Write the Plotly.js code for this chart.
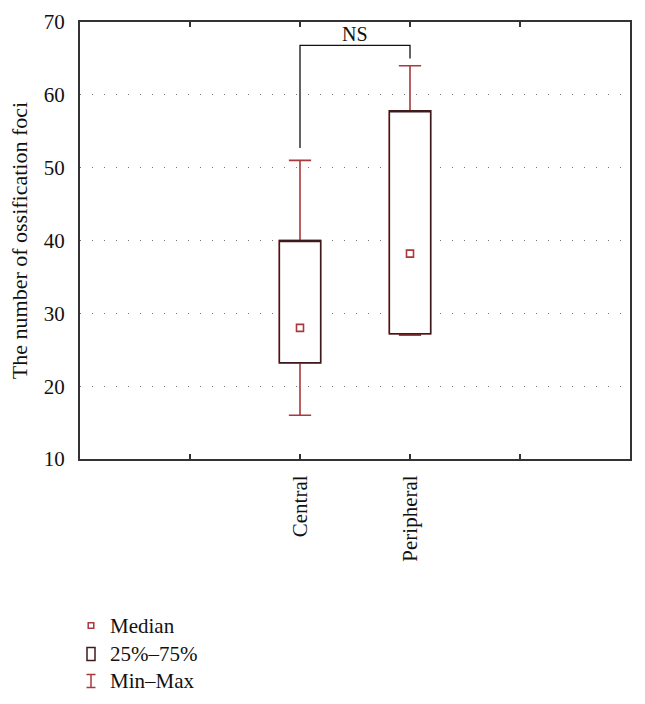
<!DOCTYPE html>
<html>
<head>
<meta charset="utf-8">
<script src="https://cdn.plot.ly/plotly-3.0.1.min.js"></script>
<style>html,body{margin:0;padding:0;background:#fff;}#chart{width:645px;height:704px;}</style>
</head>
<body>
<div id="chart"></div>
<script>
// ---- data ----
var categories = ['Central', 'Peripheral'];
var positions = [2, 3];
var minVals = [16, 27];
var q1Vals = [23.2, 27.2];
var medianVals = [28, 38.2];
var q3Vals = [40, 57.8];
var maxVals = [51, 64];
var tickPositions = [1, 2, 3, 4];
var tickLabels = ['', 'Central', 'Peripheral', ''];
var yTicks = [10, 20, 30, 40, 50, 60, 70];
var bracketLeftBottom = 52.7;
var bracketTop = 66.8;
var bracketRightBottom = 65;
var bracketLabel = 'NS';
var legendLabels = ['Median', '25%\u201375%', 'Min\u2013Max'];

// ---- style ----
var RED = '#a8393c';
var DARK = '#3f1a1c';
var FONT = 'Liberation Serif, DejaVu Serif, serif';
var L = 80, R = 15, T = 22, B = 245, W = 645, H = 704;
var PW = W - L - R, PH = H - T - B;
function px(xp) { return (xp - L) / PW; }
function py(yp) { return (H - B - yp) / PH; }

var traces = [
  { // whiskers (min-max)
    type: 'box', x: positions, q1: q1Vals, median: medianVals, q3: q3Vals,
    lowerfence: minVals, upperfence: maxVals,
    width: 0.375, whiskerwidth: 0.54, boxpoints: false,
    line: { color: RED, width: 1.6 }, fillcolor: 'rgba(0,0,0,0)',
    hoverinfo: 'skip', showlegend: false
  },
  { // 25%-75% box
    type: 'box', x: positions, q1: q1Vals, median: q3Vals, q3: q3Vals,
    lowerfence: q1Vals, upperfence: q3Vals,
    width: 0.375, whiskerwidth: 0, boxpoints: false,
    line: { color: DARK, width: 1.5 }, fillcolor: '#ffffff',
    hoverinfo: 'skip', showlegend: false
  },
  { // median
    type: 'scatter', mode: 'markers', x: positions, y: medianVals,
    marker: { symbol: 'square-open', size: 7, color: RED, line: { width: 1.6, color: RED } },
    hoverinfo: 'skip', showlegend: false, cliponaxis: false
  }
];

var legendY = [625.5, 654, 681];
var annotations = [{
  x: (positions[0] + positions[1]) / 2, y: bracketTop, xref: 'x', yref: 'y',
  text: bracketLabel, showarrow: false, yanchor: 'bottom', yshift: -2,
  font: { family: FONT, size: 20, color: '#111' }
}];
legendLabels.forEach(function (t, i) {
  annotations.push({
    x: px(108), y: py(legendY[i]), xref: 'paper', yref: 'paper',
    text: t, showarrow: false, xanchor: 'left', yanchor: 'middle',
    font: { family: FONT, size: 21, color: '#111' }
  });
});

var shapes = [
  { type: 'path', xref: 'x', yref: 'y', layer: 'above',
    path: 'M' + positions[0] + ',' + bracketLeftBottom + ' L' + positions[0] + ',' + bracketTop +
          ' L' + positions[1] + ',' + bracketTop + ' L' + positions[1] + ',' + bracketRightBottom,
    line: { color: '#111', width: 1.3 } },
  // legend: median square
  { type: 'rect', xref: 'paper', yref: 'paper', xsizemode: 'pixel', ysizemode: 'pixel',
    xanchor: px(91), yanchor: py(legendY[0]), x0: -2.8, x1: 2.8, y0: -2.8, y1: 2.8,
    line: { color: RED, width: 1.5 }, fillcolor: 'rgba(0,0,0,0)' },
  // legend: box
  { type: 'rect', xref: 'paper', yref: 'paper', xsizemode: 'pixel', ysizemode: 'pixel',
    xanchor: px(91), yanchor: py(legendY[1]), x0: -4, x1: 4, y0: -6.5, y1: 6.5,
    line: { color: DARK, width: 1.5 }, fillcolor: 'rgba(0,0,0,0)' },
  // legend: min-max I
  { type: 'line', xref: 'paper', yref: 'paper', xsizemode: 'pixel', ysizemode: 'pixel',
    xanchor: px(91), yanchor: py(legendY[2]), x0: 0, x1: 0, y0: -6.5, y1: 6.5,
    line: { color: RED, width: 1.5 } },
  { type: 'line', xref: 'paper', yref: 'paper', xsizemode: 'pixel', ysizemode: 'pixel',
    xanchor: px(91), yanchor: py(legendY[2]), x0: -4.5, x1: 4.5, y0: 6.5, y1: 6.5,
    line: { color: RED, width: 1.5 } },
  { type: 'line', xref: 'paper', yref: 'paper', xsizemode: 'pixel', ysizemode: 'pixel',
    xanchor: px(91), yanchor: py(legendY[2]), x0: -4.5, x1: 4.5, y0: -6.5, y1: -6.5,
    line: { color: RED, width: 1.5 } }
];

var layout = {
  width: W, height: H,
  margin: { l: L, r: R, t: T, b: B, pad: 0 },
  paper_bgcolor: '#ffffff', plot_bgcolor: '#ffffff',
  showlegend: false,
  boxmode: 'overlay',
  font: { family: FONT, color: '#111' },
  xaxis: {
    range: [0, 5], tickmode: 'array', tickvals: tickPositions, ticktext: tickLabels,
    tickangle: -90, ticks: 'inside', ticklen: 5, tickwidth: 1.5, tickcolor: '#333',
    showline: true, linecolor: '#333', linewidth: 2, mirror: 'ticks',
    showgrid: false, zeroline: false, fixedrange: true,
    tickfont: { family: FONT, size: 21, color: '#111' }, ticklabelstandoff: 6
  },
  yaxis: {
    range: [10, 70], tickmode: 'array', tickvals: yTicks,
    ticks: '', showline: true, linecolor: '#333', linewidth: 2, mirror: true,
    showgrid: true, gridcolor: '#777', gridwidth: 1, griddash: '1px,11px',
    zeroline: false, fixedrange: true,
    tickfont: { family: FONT, size: 21, color: '#111' }, ticklabelstandoff: 9,
    title: { text: 'The number of ossification foci', font: { family: FONT, size: 22, color: '#111' }, standoff: 10 }
  },
  annotations: annotations,
  shapes: shapes
};

Plotly.newPlot('chart', traces, layout, { staticPlot: true, displayModeBar: false });
</script>
</body>
</html>
